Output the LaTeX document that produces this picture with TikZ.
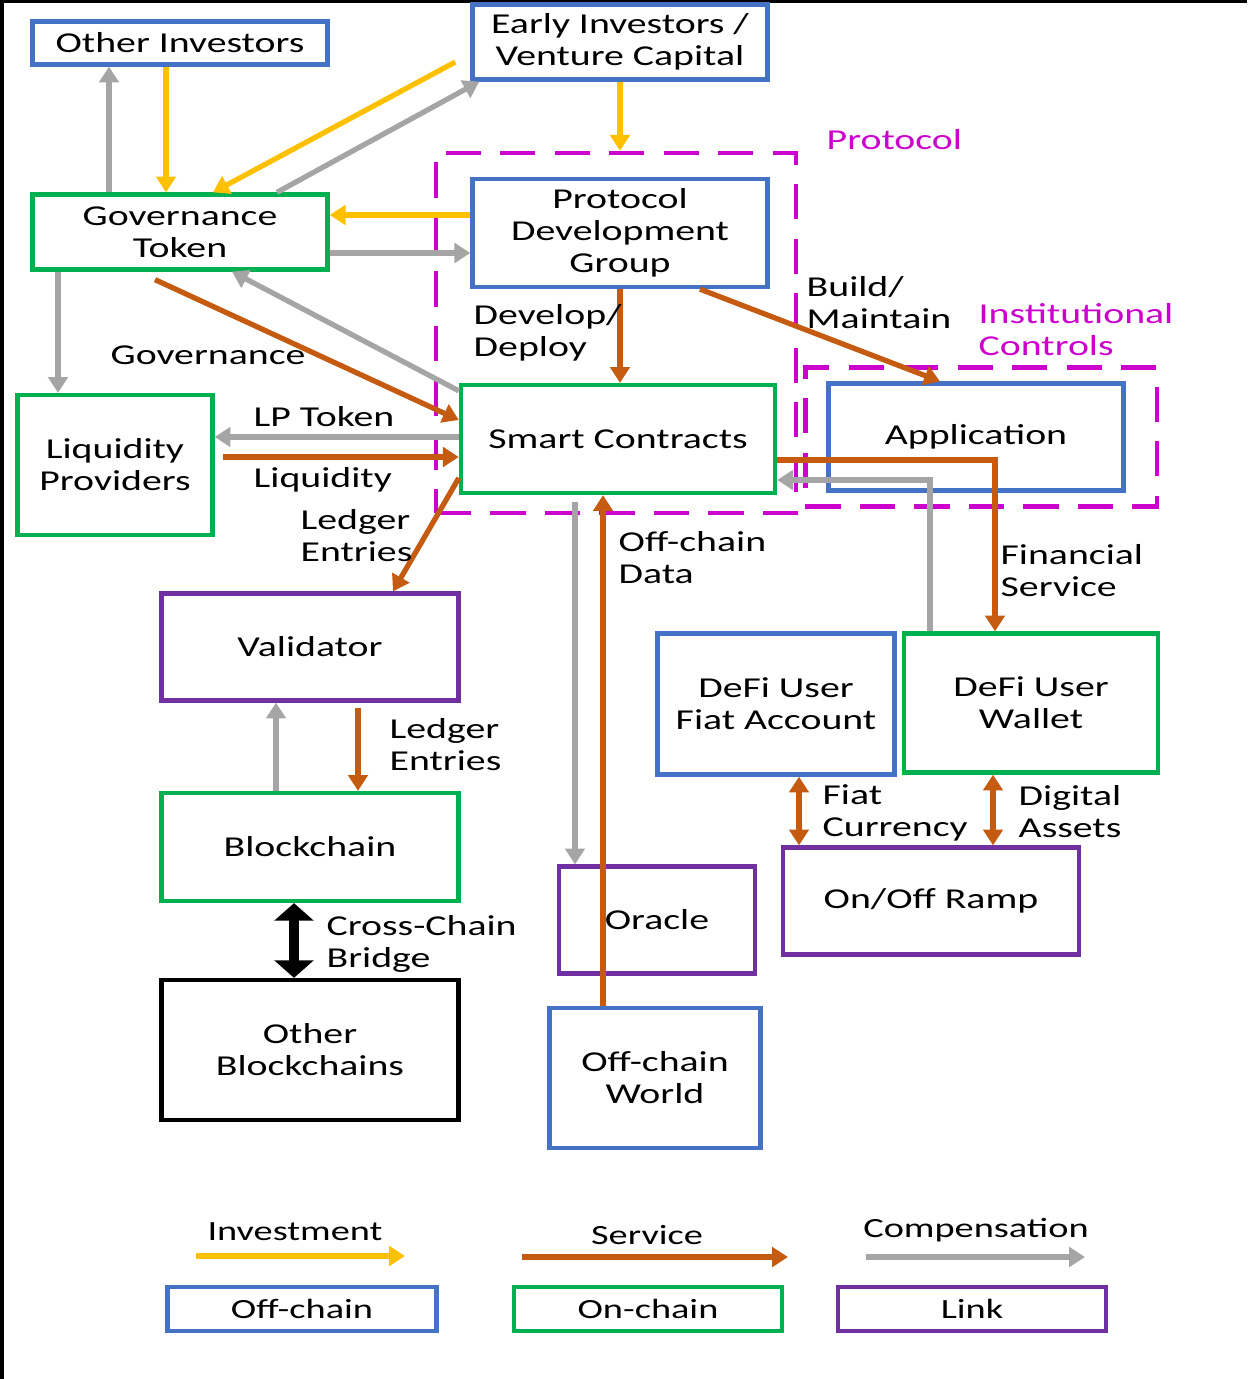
\documentclass[tikz,border=0pt]{standalone}
\usepackage{fontspec}
\setmainfont[FakeStretch=1.38]{Carlito}
\usetikzlibrary{arrows.meta, positioning}
\definecolor{offblue}{HTML}{4472C4}
\definecolor{ongreen}{HTML}{00B050}
\definecolor{linkpurple}{HTML}{7030A0}
\definecolor{svcorange}{HTML}{C55A11}
\definecolor{invyellow}{HTML}{FFC000}
\definecolor{compgray}{HTML}{A5A5A5}
\definecolor{protomag}{HTML}{CC00CC}
\tikzset{
    >={Triangle[length=4.5pt,width=5.5pt]}, % office style arrow heads
    box/.style={draw, rectangle, line width=1.2pt, align=center, inner sep=0pt,
        font=\fontsize{8.2}{9.1}\selectfont},
    offbox/.style={box, draw=offblue},
    onbox/.style={box, draw=ongreen},
    linkbox/.style={box, draw=linkpurple},
    area/.style={draw=protomag, line width=1.2pt, dash pattern=on 10pt off 5.5pt, inner sep=0pt},
    lbl/.style={anchor=west, align=left, inner sep=0pt, font=\fontsize{8.2}{9.1}\selectfont},
    maglbl/.style={lbl, text=protomag},
    keylbl/.style={inner sep=0pt, font=\fontsize{7.9}{9}\selectfont},
    inv/.style={->, draw=invyellow, line width=1.5pt},
    svc/.style={->, draw=svcorange, line width=1.5pt},
    comp/.style={->, draw=compgray, line width=1.5pt},
}

\begin{document}
\begin{tikzpicture}[x=0.01cm, y=-0.01cm]
    \useasboundingbox (0,0) rectangle (1247,1379);
    \draw[line width=1.2pt] (2,1379) -- (2,1) -- (1247,1);

    % Bereiche
    \node[area, minimum width=3.60cm, minimum height=3.60cm] (proto) at (616,333) {};
    \node[area, minimum width=3.51cm, minimum height=1.39cm] (inst) at (981,437) {};
    \node[maglbl] at (826,140) {Protocol};
    \node[maglbl] at (978,330) {Institutional\\Controls};

    % Knoten
    \node[offbox, minimum width=2.95cm, minimum height=0.43cm] (oi) at (180,43) {Other Investors};
    \node[offbox, minimum width=2.95cm, minimum height=0.75cm] (ei) at (620,42) {Early Investors /\\Venture Capital};
    \node[onbox, minimum width=2.95cm, minimum height=0.75cm] (gt) at (180,232) {Governance\\Token};
    \node[offbox, minimum width=2.95cm, minimum height=1.08cm] (pdg) at (620,233) {Protocol\\Development\\Group};
    \node[onbox, minimum width=1.95cm, minimum height=1.40cm] (lp) at (115,465) {Liquidity\\Providers};
    \node[onbox, minimum width=3.14cm, minimum height=1.08cm] (sc) at (618,439) {Smart Contracts};
    \node[offbox, minimum width=2.95cm, minimum height=1.07cm] (app) at (976,437) {Application};
    \node[linkbox, minimum width=2.97cm, minimum height=1.07cm] (val) at (310,647) {Validator};
    \node[onbox, minimum width=2.97cm, minimum height=1.08cm] (bc) at (310,847) {Blockchain};
    \node[box, minimum width=2.97cm, minimum height=1.40cm] (ob) at (310,1050) {Other\\Blockchains};
    \node[linkbox, minimum width=1.96cm, minimum height=1.07cm] (orc) at (657,920) {Oracle};
    \node[offbox, minimum width=2.11cm, minimum height=1.40cm] (ocw) at (655,1078) {Off-chain\\World};
    \node[offbox, minimum width=2.37cm, minimum height=1.41cm] (fiat) at (776,704) {DeFi User\\Fiat Account};
    \node[onbox, minimum width=2.54cm, minimum height=1.39cm] (wal) at (1031,703) {DeFi User\\Wallet};
    \node[linkbox, minimum width=2.96cm, minimum height=1.07cm] (ramp) at (931,901) {On/Off Ramp};

    % Verbindungen
    \draw[comp] (gt.north -| 109,0) -- (oi.south -| 109,0);
    \draw[inv] (oi.south -| 166,0) -- (gt.north -| 166,0);
    \draw[inv] ([shift={(-0.15cm,-0.20cm)}]ei.west) -- (gt.north -| 213,0);
    \draw[comp] (gt.north -| 277,0) -- ([xshift=0.09cm]ei.south west);
    \draw[inv] (ei.south) -- (ei.south |- proto.north);
    \draw[inv] (pdg.west |- 0,215) -- (gt.east |- 0,215);
    \draw[comp] (gt.east |- 0,253) -- (pdg.west |- 0,253);
    \draw[comp] (gt.south -| 58,0) -- (lp.north -| 58,0);
    \draw[svc] ([yshift=-0.08cm]gt.south -| 155,0) -- (sc.west |- 0,420);
    \node[lbl] at (110,355) {Governance};
    \draw[comp] ([yshift=-0.08cm]sc.north west) -- (gt.south -| 232,0);
    \draw[svc] (pdg.south) -- (pdg.south |- sc.north);
    \node[lbl] at (473,333) {Develop/\\Deploy};
    \draw[svc] (pdg.south -| 700,0) -- (app.north -| 940,0);
    \node[lbl] at (806,303) {Build/\\Maintain};
    \draw[comp] (sc.west |- 0,437) -- (lp.east |- 0,437);
    \node[lbl] at (253,417) {LP Token};
    \draw[svc, shorten <=0.08cm] (lp.east |- 0,457) -- (sc.west |- 0,457);
    \node[lbl] at (253,480) {Liquidity};
    \draw[svc] (sc.west |- 0,478) -- (val.north -| 393,0);
    \node[lbl] at (300,536) {Ledger\\Entries};
    \draw[comp, shorten <=0.07cm] (sc.south -| 575,0) -- (orc.north -| 575,0);
    \draw[svc] (ocw.north -| 603,0) -- (sc.south -| 603,0);
    \node[lbl] at (618,558) {Off-chain\\Data};
    \draw[svc] (sc.east |- 0,460) -| (wal.north -| 995,0);
    \draw[comp] (wal.north -| 930,0) |- (sc.east |- 0,480);
    \node[lbl] at (1000,571) {Financial\\Service};
    \draw[comp] (bc.north -| 276,0) -- (val.south -| 276,0);
    \draw[svc, shorten <=0.05cm] (val.south -| 358,0) -- (bc.north -| 358,0);
    \node[lbl] at (389,745) {Ledger\\Entries};
    \draw[line width=2.6pt, {Triangle[length=5pt,width=11pt]}-{Triangle[length=5pt,width=11pt]}] (bc.south -| 294,0) -- (ob.north -| 294,0);
    \node[lbl] at (326,944) {Cross-Chain\\Bridge};
    \draw[svc, <->] (fiat.south -| 799,0) -- (ramp.north -| 799,0);
    \node[lbl] at (822,813) {Fiat\\Currency};
    \draw[svc, <->] (wal.south -| 993,0) -- (ramp.north -| 993,0);
    \node[lbl] at (1018,812) {Digital\\Assets};

    % Legende
    \coordinate (inva) at (196,1256);
    \coordinate (invb) at (405,1256);
    \coordinate (svca) at (522,1257);
    \coordinate (svcb) at (788,1257);
    \coordinate (compa) at (866,1257);
    \coordinate (compb) at (1085,1257);
    \draw[inv] (inva) -- (invb);
    \draw[svc] (svca) -- (svcb);
    \draw[comp] (compa) -- (compb);
    \node[keylbl] at (295,1232) {Investment};
    \node[keylbl] at (647,1235) {Service};
    \node[keylbl] at (976,1230) {Compensation};
    \node[offbox, minimum width=2.69cm, minimum height=0.44cm, keylbl] (koff) at (302,1309) {Off-chain};
    \node[onbox, minimum width=2.68cm, minimum height=0.44cm, keylbl] (kon) at (648,1309) {On-chain};
    \node[linkbox, minimum width=2.68cm, minimum height=0.44cm, keylbl] (klink) at (972,1309) {Link};
\end{tikzpicture}
\end{document}
